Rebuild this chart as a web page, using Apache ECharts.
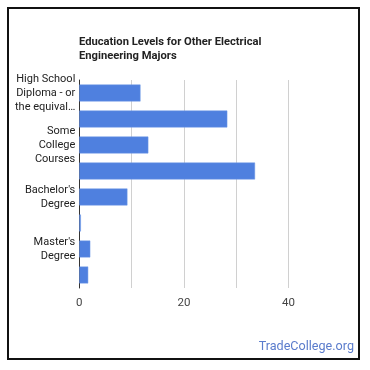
<!DOCTYPE html>
<html><head><meta charset="utf-8">
<script src="https://cdn.jsdelivr.net/npm/echarts@6/dist/echarts.min.js"></script>
<style>html,body{margin:0;padding:0;background:#fff}#c{width:370px;height:370px}</style>
</head><body><div id="c"></div>
<script>
const categories = ["High School\nDiploma - or\nthe equival…", "", "Some\nCollege\nCourses", "", "Bachelor's\nDegree", "", "Master's\nDegree", ""];
const values = [11.7, 28.3, 13.2, 33.6, 9.2, 0.3, 2.1, 1.7];
const xTicks = [0, 20, 40];
const titleText = "Education Levels for Other Electrical\nEngineering Majors";
const watermark = "TradeCollege.org";

const chart = echarts.init(document.getElementById('c'), null, {renderer: 'canvas'});
chart.setOption({
  animation: false,
  backgroundColor: '#fff',
  title: {
    text: titleText, left: 79, top: 35, padding: 0,
    textStyle: {fontFamily: 'Roboto', fontSize: 11.2, fontWeight: 'bold', color: '#222', lineHeight: 14}
  },
  grid: {left: 79.3, top: 80, width: 261.5, height: 208},
  xAxis: {
    type: 'value', min: 0, max: 50, interval: 10,
    axisLine: {show: false}, axisTick: {show: false},
    splitLine: {show: true, showMaxLine: false, lineStyle: {color: '#d0d0d0', width: 1}},
    axisLabel: {
      color: '#444', fontFamily: 'Roboto', fontSize: 11.5, margin: 9,
      formatter: v => xTicks.includes(v) ? String(v) : ''
    }
  },
  yAxis: {
    type: 'category', data: categories, inverse: true,
    axisLine: {show: true, lineStyle: {color: '#333', width: 1}},
    axisTick: {show: false},
    axisLabel: {color: '#222', fontFamily: 'Roboto', fontSize: 11, lineHeight: 14, margin: 4, interval: 0, align: 'right'}
  },
  series: [{
    type: 'bar', data: values, barCategoryGap: '35%',
    itemStyle: {color: '#4f80df', borderColor: '#6f98e6', borderWidth: 0.5}
  }],
  graphic: [
    {type: 'rect', shape: {x: 8, y: 8, width: 351, height: 351}, style: {fill: 'none', stroke: '#111', lineWidth: 2}, z: 100},
    {type: 'text', right: 16, top: 340, style: {text: watermark, fill: '#5b7ccc', font: '12.6px Roboto'}}
  ]
});
</script></body></html>
